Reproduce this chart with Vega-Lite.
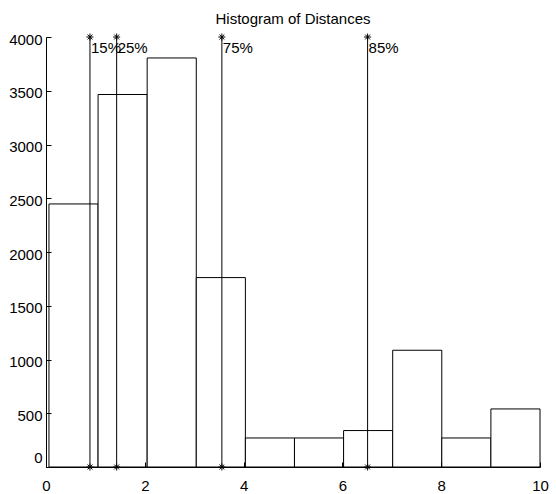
{
  "$schema": "https://vega.github.io/schema/vega-lite/v6.json",
  "width": 494,
  "height": 430,
  "autosize": "none",
  "padding": {"left": 46, "top": 37, "right": 16, "bottom": 27},
  "background": "white",
  "title": {
    "text": "Histogram of Distances",
    "font": "Liberation Sans",
    "fontSize": 15,
    "fontWeight": "normal",
    "color": "black",
    "anchor": "middle",
    "baseline": "alphabetic",
    "offset": 13,
    "dy": 20
  },
  "config": {
    "view": {"stroke": null},
    "axis": {
      "grid": false,
      "domainColor": "black",
      "domainWidth": 1,
      "tickColor": "black",
      "tickWidth": 1,
      "labelColor": "black",
      "labelFont": "Liberation Sans",
      "labelFontSize": 15,
      "labelOverlap": false,
      "labelBound": false,
      "labelFlush": false
    }
  },
  "datasets": {
    "bins": [
      {"start": 0.06, "end": 1.054, "count": 2447},
      {"start": 1.054, "end": 2.048, "count": 3465},
      {"start": 2.048, "end": 3.042, "count": 3805},
      {"start": 3.042, "end": 4.036, "count": 1762},
      {"start": 4.036, "end": 5.03, "count": 270},
      {"start": 5.03, "end": 6.024, "count": 270},
      {"start": 6.024, "end": 7.018, "count": 339},
      {"start": 7.018, "end": 8.012, "count": 1086},
      {"start": 8.012, "end": 9.006, "count": 270},
      {"start": 9.006, "end": 10.0, "count": 540}
    ],
    "pct": [
      {"value": 0.89, "label": "15%"},
      {"value": 1.43, "label": "25%"},
      {"value": 3.56, "label": "75%"},
      {"value": 6.51, "label": "85%"}
    ]
  },
  "layer": [
    {
      "data": {"name": "bins"},
      "mark": {"type": "rect", "fill": "white", "stroke": "black", "strokeWidth": 1},
      "encoding": {
        "x": {
          "field": "start", "type": "quantitative", "title": null,
          "scale": {"domain": [0, 10], "nice": false, "zero": false},
          "axis": {"values": [0, 2, 4, 6, 8, 10], "format": "d", "labelOverlap": false, "labelPadding": 16, "tickSize": -5, "zindex": 1}
        },
        "x2": {"field": "end"},
        "y": {
          "field": "count", "type": "quantitative", "title": null,
          "scale": {"domain": [0, 4000], "nice": false},
          "axis": {
            "values": [0, 500, 1000, 1500, 2000, 2500, 3000, 3500, 4000],
            "format": "d",
            "labelOverlap": false,
            "labelPadding": 9,
            "tickSize": -5,
            "zindex": 1,
            "labelOffset": {"condition": {"test": "datum.value === 0", "value": -10}, "value": 2}
          }
        },
        "y2": {"datum": 0}
      }
    },
    {
      "data": {"name": "pct"},
      "mark": {"type": "rule", "color": "black", "strokeWidth": 1},
      "encoding": {
        "x": {"field": "value", "type": "quantitative", "title": null},
        "y": {"datum": 0, "type": "quantitative", "title": null},
        "y2": {"datum": 4000}
      }
    },
    {
      "data": {"name": "pct"},
      "mark": {"type": "point", "shape": "M0,-1L0,1M-1,0L1,0M-0.7,-0.7L0.7,0.7M-0.7,0.7L0.7,-0.7", "filled": false, "stroke": "black", "strokeWidth": 1, "size": 49, "opacity": 1},
      "encoding": {
        "x": {"field": "value", "type": "quantitative", "title": null},
        "y": {"datum": 4000, "type": "quantitative", "title": null}
      }
    },
    {
      "data": {"name": "pct"},
      "mark": {"type": "point", "shape": "M0,-1L0,1M-1,0L1,0M-0.7,-0.7L0.7,0.7M-0.7,0.7L0.7,-0.7", "filled": false, "stroke": "black", "strokeWidth": 1, "size": 49, "opacity": 1},
      "encoding": {
        "x": {"field": "value", "type": "quantitative", "title": null},
        "y": {"datum": 0, "type": "quantitative", "title": null}
      }
    },
    {
      "data": {"name": "pct"},
      "mark": {"type": "text", "align": "left", "baseline": "alphabetic", "dx": 1, "dy": 16, "font": "Liberation Sans", "fontSize": 15, "color": "black"},
      "encoding": {
        "x": {"field": "value", "type": "quantitative", "title": null},
        "y": {"datum": 4000, "type": "quantitative", "title": null},
        "text": {"field": "label"}
      }
    }
  ]
}
